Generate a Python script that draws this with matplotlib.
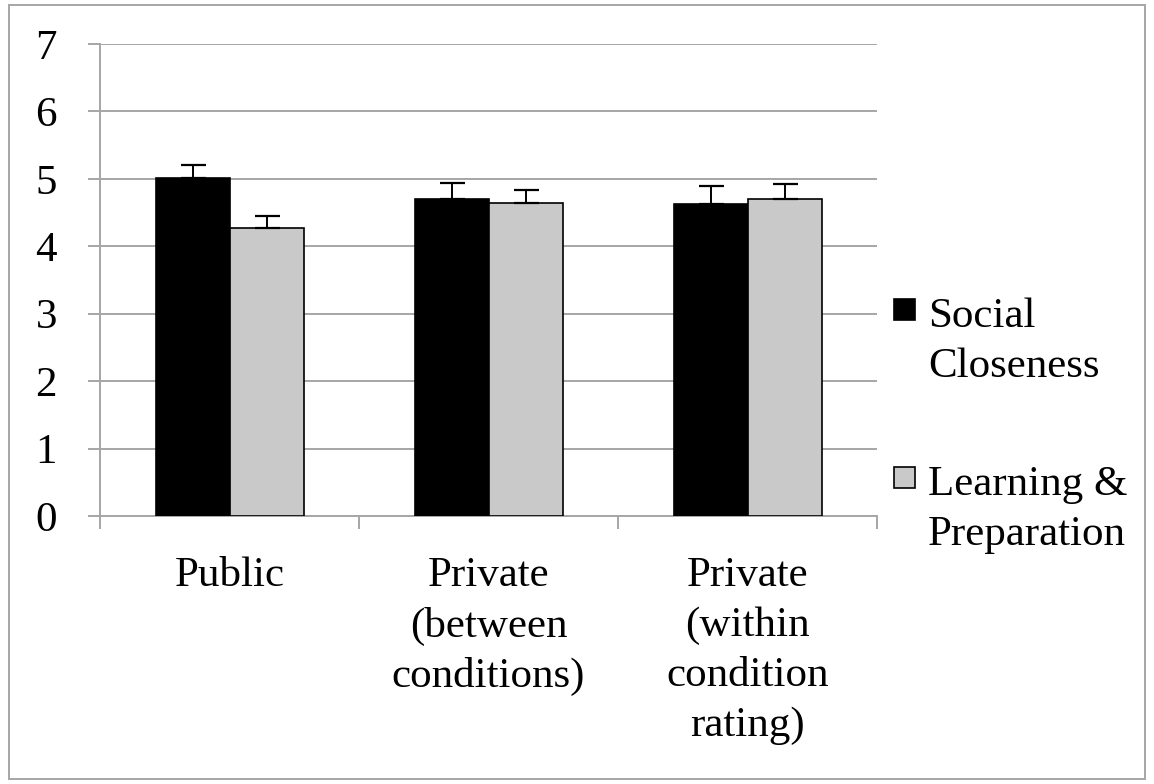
import numpy as np
import matplotlib.pyplot as plt
from matplotlib.patches import Rectangle

categories = ['Public', 'Private\n(between\nconditions)', 'Private\n(within\ncondition\nrating)']
social = [5.02, 4.70, 4.63]
social_err = [0.19, 0.24, 0.27]
learning = [4.27, 4.64, 4.70]
learning_err = [0.18, 0.19, 0.22]
series_names = ['Social\nCloseness', 'Learning &\nPreparation']

plt.rcParams['font.family'] = ['Liberation Serif', 'DejaVu Serif']
grid_col = '#a6a6a6'

fig = plt.figure(figsize=(11.54, 7.84), dpi=100)
ax = fig.add_axes([100 / 1154, 1 - 516 / 784, 777 / 1154, 472 / 784])

x = np.arange(len(categories))
w = 1 / 3.5
ax.bar(x - w / 2, social, w, color='black', edgecolor='black', linewidth=1.2, zorder=3)
ax.bar(x + w / 2, learning, w, color='#c9c9c9', edgecolor='black', linewidth=1.2, zorder=3)
ax.errorbar(x - w / 2, social, yerr=[np.zeros(3), social_err], fmt='none',
            ecolor='black', elinewidth=1.4, capsize=9, capthick=1.6, zorder=4)
ax.errorbar(x + w / 2, learning, yerr=[np.zeros(3), learning_err], fmt='none',
            ecolor='black', elinewidth=1.4, capsize=9, capthick=1.6, zorder=4)

ax.set_xlim(-0.5, 2.5)
ax.set_ylim(0, 7)
ax.set_yticks(range(8))
ax.yaxis.grid(True, color=grid_col, linewidth=1.4, zorder=0)
ax.set_axisbelow(True)

ax.set_xticks(x)
ax.set_xticklabels(categories, fontsize=31, linespacing=1.39)
ax.set_xticks([-0.5, 0.5, 1.5, 2.5], minor=True)
ax.tick_params(axis='x', which='major', length=0, pad=29)
ax.tick_params(axis='x', which='minor', length=9, width=1.4, color=grid_col, direction='out')
ax.tick_params(axis='y', labelsize=31, length=9, width=1.4, color=grid_col, pad=22)

for side in ['top', 'right']:
    ax.spines[side].set_visible(False)
ax.spines['left'].set_color(grid_col)
ax.spines['bottom'].set_color(grid_col)
ax.spines['left'].set_linewidth(1.4)
ax.spines['bottom'].set_linewidth(1.4)

# legend drawn by hand so the swatch sits on the first line
def fx(px):
    return px / 1154

def fy(py):
    return 1 - py / 784

for name, col, top in zip(series_names, ['black', '#c9c9c9'], [299, 467]):
    fig.patches.append(Rectangle((fx(894), fy(top + 21)), 21 / 1154, 21 / 784,
                                 transform=fig.transFigure, facecolor=col,
                                 edgecolor='black', linewidth=1.2))
    for i, line in enumerate(name.split('\n')):
        fig.text(fx(928), fy(top + 28 + 50 * i), line, fontsize=31,
                 ha='left', va='baseline')

# outer frame
fig.patches.append(Rectangle((fx(9), fy(779)), 1136 / 1154, 774 / 784,
                             transform=fig.transFigure, facecolor='none',
                             edgecolor=grid_col, linewidth=1.4))

fig.savefig('out.png', dpi=100)
